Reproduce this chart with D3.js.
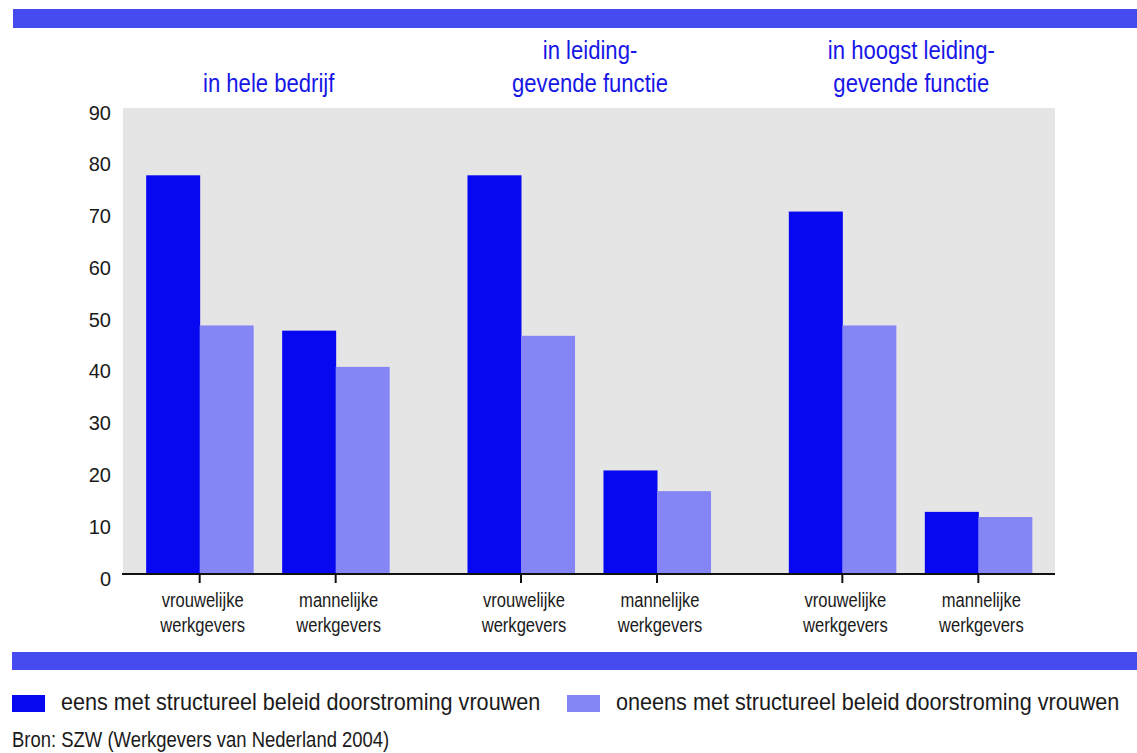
<!DOCTYPE html>
<html>
<head>
<meta charset="utf-8">
<script src="https://cdn.jsdelivr.net/npm/d3@7"></script>
<style>
  html, body { margin: 0; padding: 0; background: #ffffff; }
  svg { display: block; }
  text { font-family: "Liberation Sans", Arial, Helvetica, sans-serif; }
</style>
</head>
<body>
<svg id="chart" width="1137" height="753"></svg>
<script>
// ---- data ----
const groups = ["in hele bedrijf", "in leidinggevende functie", "in hoogst leidinggevende functie"];
const groupTitles = [["in hele bedrijf"], ["in leiding-", "gevende functie"], ["in hoogst leiding-", "gevende functie"]];
const employers = ["vrouwelijke werkgevers", "mannelijke werkgevers"];
const employerLabels = [["vrouwelijke", "werkgevers"], ["mannelijke", "werkgevers"]];
const seriesNames = ["eens met structureel beleid doorstroming vrouwen", "oneens met structureel beleid doorstroming vrouwen"];
// values[group][employer] for each series
const eens   = [[77, 47], [77, 20], [70, 12]];
const oneens = [[48, 40], [46, 16], [48, 11]];
const yTicks = [0, 10, 20, 30, 40, 50, 60, 70, 80, 90];
const source = "Bron: SZW (Werkgevers van Nederland 2004)";

// ---- styles ----
const colors = ["#0808F0", "#8585F5"];
const bandColor = "#464BF0";
const titleColor = "#1616E6";
const textColor = "#1a1a1a";

const svg = d3.select("#chart");
const W = 1137;
const plot = { left: 123, right: 1055, top: 108, bottom: 574 };

// condensed text helper: real text, horizontally scaled
function narrowText(parent, x, y, str, size, sx, anchor, fill) {
  const g = parent.append("g").attr("transform", `translate(${x},${y}) scale(${sx},1)`);
  g.append("text").attr("x", 0).attr("y", 0).attr("text-anchor", anchor)
    .attr("font-size", size).attr("fill", fill).text(str);
  return g;
}

// top & bottom bands
svg.append("rect").attr("x", 13).attr("y", 9).attr("width", W - 13).attr("height", 19).attr("fill", bandColor);
svg.append("rect").attr("x", 12).attr("y", 652).attr("width", W - 12).attr("height", 18).attr("fill", bandColor);

// plot background
svg.append("rect").attr("x", plot.left).attr("y", plot.top)
  .attr("width", plot.right - plot.left).attr("height", plot.bottom - plot.top)
  .attr("fill", "#E5E5E5");

// scales
const y = d3.scaleLinear().domain([0, 90]).range([plot.bottom, plot.top]);
const xGroup = d3.scaleBand().domain(groups).range([107, 1071]).padding(0);
const xEmp = d3.scaleBand().domain(employers).range([-136, 136]).paddingInner(0.213).paddingOuter(0.1065);
const xSer = d3.scaleBand().domain(seriesNames).range([0, xEmp.bandwidth()]).padding(0);

const gc = g => xGroup(g) + xGroup.bandwidth() / 2;

// bars
const data = [];
groups.forEach((g, gi) => {
  employers.forEach((e, ei) => {
    data.push({ g, e, s: seriesNames[0], v: eens[gi][ei], c: colors[0] });
    data.push({ g, e, s: seriesNames[1], v: oneens[gi][ei], c: colors[1] });
  });
});
svg.append("g").selectAll("rect").data(data).join("rect")
  .attr("x", d => gc(d.g) + xEmp(d.e) + xSer(d.s))
  .attr("y", d => y(d.v))
  .attr("width", xSer.bandwidth() + 0.5)
  .attr("height", d => y(0) - y(d.v))
  .attr("fill", d => d.c);

// y axis labels
const yAxis = d3.axisLeft(y).tickValues(yTicks).tickSize(0).tickPadding(0);
const yg = svg.append("g").attr("transform", `translate(111,0)`).call(yAxis);
yg.attr("font-family", null);
yg.select(".domain").remove();
yg.selectAll("text")
  .attr("dy", "0.55em")
  .style("font-family", "'Liberation Sans', Arial, sans-serif")
  .attr("font-size", 20)
  .attr("fill", textColor);

// x axis line
svg.append("line").attr("x1", 122).attr("x2", plot.right).attr("y1", plot.bottom).attr("y2", plot.bottom)
  .attr("stroke", "#111").attr("stroke-width", 2);

// ticks + labels + titles
groups.forEach((g, gi) => {
  employers.forEach((e, ei) => {
    const cx = gc(g) + xEmp(e) + xEmp.bandwidth() / 2;
    svg.append("line").attr("x1", cx).attr("x2", cx).attr("y1", plot.bottom).attr("y2", plot.bottom + 9)
      .attr("stroke", "#111").attr("stroke-width", 2);
    employerLabels[ei].forEach((line, li) => {
      narrowText(svg, cx + 3, 607 + li * 25, line, 19.5, 0.85, "middle", textColor);
    });
  });
  const lines = groupTitles[gi];
  lines.forEach((line, li) => {
    narrowText(svg, gc(g) + 1, 92 - (lines.length - 1 - li) * 33, line, 26, 0.85, "middle", titleColor);
  });
});

// legend
const legX = [12, 567];
seriesNames.forEach((s, i) => {
  svg.append("rect").attr("x", legX[i]).attr("y", 695).attr("width", 33).attr("height", 17).attr("fill", colors[i]);
  narrowText(svg, legX[i] + 49, 710, s, 23, 0.94, "start", textColor);
});

// source
narrowText(svg, 12, 747, source, 22, 0.84, "start", textColor);
</script>
</body>
</html>
